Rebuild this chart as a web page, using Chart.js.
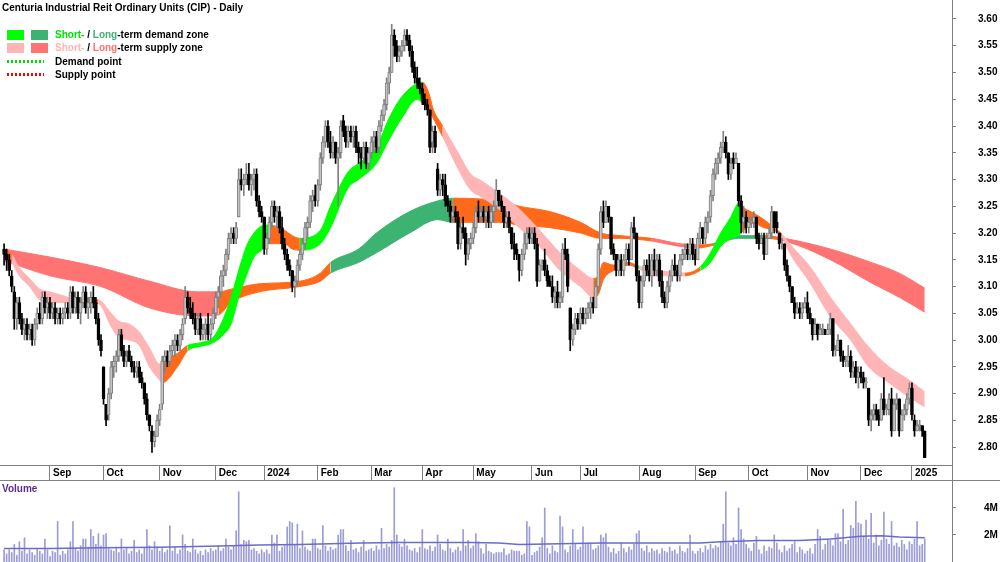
<!DOCTYPE html>
<html>
<head>
<meta charset="utf-8">
<script src="https://cdn.jsdelivr.net/npm/chart.js@4.4.1/dist/chart.umd.min.js"></script>
<style>
body { margin: 0; background: #fff; }
#wrap { position: relative; width: 1000px; height: 562px; overflow: hidden; background: #fff; font-family: "Liberation Sans", Arial, sans-serif; }
canvas { position: absolute; left: 0; }
.t { position: absolute; font-size: 10px; font-weight: bold; line-height: 13px; white-space: nowrap; color: #000; }
.sw { position: absolute; width: 17px; height: 10px; }
.dots { position: absolute; width: 37px; height: 3px; }
</style>
</head>
<body>
<div id="wrap">
  <canvas id="price" width="1000" height="480" style="top:0"></canvas>
  <canvas id="vol" width="1000" height="82" style="top:480px"></canvas>
  <div style="position:absolute;left:0;top:480px;width:1000px;height:1px;background:#808080"></div>
  <div style="position:absolute;left:952px;top:0;width:1px;height:562px;background:#808080"></div>

  <div class="t" style="left:2px;top:1px">Centuria Industrial Reit Ordinary Units (CIP) - Daily</div>
  <div class="sw" style="left:7px;top:30px;background:#00ff00"></div>
  <div class="sw" style="left:31px;top:30px;background:#3cb371"></div>
  <div class="t" style="left:55px;top:28px"><span style="color:#00e000">Short-</span> / <span style="color:#3cb371">Long</span>-term demand zone</div>
  <div class="sw" style="left:7px;top:43px;background:#ffb5b5"></div>
  <div class="sw" style="left:31px;top:43px;background:#ff7373"></div>
  <div class="t" style="left:55px;top:41px"><span style="color:#ffb5b5">Short-</span> / <span style="color:#ff7373">Long</span>-term supply zone</div>
  <div class="dots" style="left:7px;top:60px;background:repeating-linear-gradient(90deg,#00e000 0 2px,transparent 2px 4px)"></div>
  <div class="t" style="left:55px;top:55px">Demand point</div>
  <div class="dots" style="left:7px;top:73px;background:repeating-linear-gradient(90deg,#ff0000 0 2px,transparent 2px 4px)"></div>
  <div class="t" style="left:55px;top:68px">Supply point</div>
  <div class="t" style="left:2px;top:482px;color:#5c2d91">Volume</div>
</div>
<script>
// month ticks (trading-day index) and labels
const monthIdx = [18, 39, 61, 83, 102, 123, 144, 164, 184, 207, 226, 249, 271, 292, 315, 336, 356];
const monthLabels = ['Sep', 'Oct', 'Nov', 'Dec', '2024', 'Feb', 'Mar', 'Apr', 'May', 'Jun', 'Jul', 'Aug', 'Sep', 'Oct', 'Nov', 'Dec', '2025'];
const priceTicks = [2.80, 2.85, 2.90, 2.95, 3.00, 3.05, 3.10, 3.15, 3.20, 3.25, 3.30, 3.35, 3.40, 3.45, 3.50, 3.55, 3.60];
const volTicks = [2, 4];

// daily prices in cents, one line per month (Aug 2023 .. Jan 2025)
const opens = [
  317,316,315,312,309,304,307,304,302,303,301,302,300,303,305,304,308,306,
  307,305,306,304,305,304,305,306,305,309,306,308,305,307,309,306,307,308,307,304,300,
  295,288,286,290,295,296,297,301,298,296,298,296,295,294,295,293,292,289,286,283,281,282,
  285,288,296,297,296,298,299,300,299,301,304,308,306,305,304,302,304,301,302,303,301,303,
  305,308,309,312,313,316,319,320,319,323,330,329,330,331,329,330,331,326,324,
  323,317,319,322,325,323,324,321,318,316,314,313,310,311,314,316,318,321,322,326,327,
  326,329,334,337,340,337,335,337,334,335,341,339,337,339,338,339,336,335,334,336,333,
  335,337,338,336,340,342,344,348,350,357,355,353,354,355,357,356,354,351,349,348,
  347,345,344,343,337,339,332,328,330,329,326,325,323,324,323,318,321,320,316,318,
  319,321,324,323,324,323,324,322,324,325,328,326,325,322,323,321,318,317,316,313,316,318,320,
  319,320,318,311,314,315,313,311,310,308,309,307,308,317,316,306,300,302,304,
  303,305,304,305,306,307,306,310,317,324,322,325,323,317,316,313,315,313,315,317,315,321,320,
  312,307,311,314,313,312,315,313,315,311,308,307,310,312,314,313,312,315,316,317,316,318,
  316,315,319,321,319,322,323,327,331,333,334,336,337,335,331,334,333,333,326,322,323,
  321,322,322,323,319,318,319,316,319,320,324,322,320,318,318,314,312,310,307,305,306,305,306,
  307,305,304,301,303,301,302,302,301,302,304,298,298,300,297,296,296,297,294,295,293,
  294,293,292,291,285,286,287,286,285,289,287,287,289,283,288,289,283,286,287,289,
  291,285,283,284,284,283
];
const highs = [
  318,317,316,313,310,308,308,305,304,304,303,303,304,306,307,309,309,308,
  308,307,307,306,306,306,307,307,310,310,309,309,308,310,310,308,309,310,308,305,301,
  295,288,291,296,297,298,302,302,299,298,299,297,296,296,296,294,292,290,286,284,283,286,
  288,297,298,298,299,300,301,301,302,304,310,309,308,307,305,305,305,303,304,305,304,306,
  309,310,313,314,317,320,321,321,322,332,332,331,333,333,331,332,332,327,325,
  323,320,323,326,326,325,325,323,319,317,315,313,312,315,317,319,322,323,327,328,329,
  330,335,338,341,341,339,338,337,336,341,342,340,340,340,340,340,337,336,337,337,336,
  338,339,339,341,343,345,349,351,359,358,356,355,356,358,358,357,355,352,351,349,
  348,346,345,343,340,340,333,331,331,331,327,326,325,325,324,322,323,321,319,320,
  322,325,326,325,325,325,325,325,326,330,328,327,325,324,324,321,320,318,316,317,320,321,321,
  321,321,319,315,315,317,314,312,312,310,311,309,318,319,317,306,303,305,305,
  306,306,306,307,308,308,311,318,325,326,326,325,323,318,316,316,316,316,318,318,322,323,320,
  313,312,315,315,316,316,317,316,316,313,309,311,313,315,316,314,316,317,318,318,319,319,
  317,320,322,321,323,324,328,332,334,335,337,339,338,335,334,335,335,333,327,325,324,
  323,323,324,323,320,320,320,320,321,325,324,324,320,319,318,315,312,310,308,307,307,307,308,
  309,306,304,304,303,303,303,302,303,305,304,299,301,300,298,297,299,298,296,296,295,
  295,294,293,291,287,288,288,287,290,293,288,290,291,289,290,289,287,288,290,292,
  292,286,285,285,284,283
];
const lows = [
  314,313,312,309,302,302,303,301,300,300,300,299,299,302,303,303,305,304,
  304,304,303,303,303,303,304,304,304,305,305,304,303,306,305,304,305,306,303,299,297,
  288,284,285,289,293,294,296,297,295,295,296,294,293,293,292,291,288,285,283,279,280,282,
  284,287,294,295,295,297,297,298,298,300,303,305,304,303,301,301,300,300,300,300,300,302,
  304,306,308,310,312,315,318,318,318,323,328,327,329,328,327,328,325,323,322,
  316,316,318,321,322,321,320,317,315,313,312,309,308,310,313,315,317,319,321,324,325,
  325,328,333,336,336,334,334,333,325,334,338,336,336,337,336,335,333,332,333,332,332,
  334,335,335,335,339,341,343,346,350,353,352,352,353,354,355,353,350,348,347,346,
  344,343,342,335,335,335,327,327,327,325,324,322,322,322,317,317,319,314,315,317,
  318,320,322,322,322,321,321,321,322,324,325,324,321,321,320,317,315,315,311,312,315,317,318,
  318,317,310,311,313,312,310,310,307,306,306,306,307,315,309,298,299,301,302,
  302,303,303,304,304,305,306,309,316,321,322,322,316,315,312,312,312,312,314,314,315,319,311,
  306,306,310,312,311,310,312,312,310,307,306,306,309,311,312,311,311,314,315,315,315,315,
  314,315,318,318,318,320,322,326,330,331,333,335,334,330,330,332,333,325,320,320,320,
  320,321,321,318,317,318,315,316,319,319,320,320,317,317,313,311,309,307,304,305,304,304,306,
  304,303,300,301,300,301,301,301,301,301,297,297,298,296,295,295,295,293,293,292,291,
  292,291,291,284,283,285,285,284,285,286,286,286,282,283,287,282,283,285,286,288,
  285,282,283,283,282,278
];
const closes = [
  316,315,313,310,304,307,304,302,303,301,302,300,303,305,304,308,306,307,
  305,306,304,305,304,305,306,305,309,306,308,305,307,309,306,307,308,307,304,300,298,
  289,285,290,295,296,297,301,298,296,297,296,295,294,295,293,292,289,286,284,281,282,285,
  287,296,297,296,298,299,300,299,301,303,308,306,305,304,302,304,301,302,303,301,303,305,
  308,309,312,313,316,319,320,319,321,330,329,330,331,329,330,331,326,324,323,
  317,319,322,325,323,324,321,318,316,314,313,310,311,314,316,318,321,322,326,327,326,
  329,334,337,340,337,335,337,334,335,340,339,337,339,338,339,336,335,334,336,333,335,
  337,338,336,340,342,344,348,350,357,355,353,354,355,357,356,354,351,349,348,347,
  345,344,343,336,339,336,328,330,329,326,325,323,324,323,318,321,320,316,318,319,
  321,324,323,324,323,324,322,324,325,328,326,325,322,323,321,318,317,316,313,316,318,320,319,
  320,318,311,314,314,313,311,310,308,309,307,308,317,316,310,300,302,304,303,
  305,304,305,306,307,306,310,317,324,322,325,323,317,316,313,315,313,315,317,315,321,320,312,
  307,311,314,313,312,315,313,315,311,308,307,310,312,314,313,312,315,316,317,316,318,316,
  315,319,321,319,322,323,327,331,333,334,336,337,335,331,333,333,334,326,322,323,321,
  322,322,323,319,318,319,316,319,320,324,321,321,318,318,314,312,310,307,305,306,305,306,307,
  305,304,301,303,301,302,302,301,302,304,298,298,300,297,296,296,297,294,295,293,294,
  293,292,292,285,286,287,286,285,289,287,287,289,283,288,289,283,286,287,289,291,
  286,283,284,284,283,278
];
// daily volume, millions
const volumes = [
  0.9,0.6,0.9,0.7,1.3,0.5,1.5,0.8,1.8,0.6,0.9,0.7,0.5,1.0,0.8,0.6,1.7,0.9,
  0.4,0.8,0.7,3.0,0.5,0.8,0.6,0.9,1.5,3.0,1.0,0.8,1.2,1.7,1.7,1.1,2.4,1.9,1.3,2.1,1.2,
  2.0,2.1,1.0,0.9,0.8,1.1,0.7,1.7,0.9,1.0,0.6,0.8,1.6,0.7,0.9,0.6,1.1,2.4,1.2,0.9,1.5,1.1,
  0.8,1.0,0.7,0.9,2.7,0.8,1.1,0.6,0.9,2.0,1.3,0.8,0.7,1.7,0.9,0.6,0.8,0.5,0.9,0.7,1.0,0.8,
  0.9,1.2,0.8,1.0,1.7,1.1,0.9,1.2,2.3,5.2,1.3,1.6,1.5,1.6,0.9,1.0,0.8,0.6,0.9,
  0.7,0.9,0.6,2.0,1.4,2.0,0.8,1.1,1.2,2.6,3.0,2.9,1.3,2.8,1.0,2.3,1.1,0.9,0.8,1.7,1.7,
  1.0,0.9,2.7,1.2,0.8,1.1,0.9,1.0,2.0,2.4,2.4,1.2,0.8,1.6,0.9,1.0,0.7,1.1,1.6,0.8,0.9,
  1.0,0.8,1.2,0.9,2.5,1.0,1.3,1.1,1.6,5.5,2.0,1.3,1.1,1.7,1.2,0.9,0.8,1.0,0.7,1.1,
  2.4,1.0,0.9,1.2,0.8,1.1,2.0,1.3,0.9,0.8,1.7,1.0,0.7,0.9,1.1,0.8,2.4,1.2,1.6,1.0,
  1.2,2.1,1.5,1.0,0.6,1.3,0.8,0.7,0.6,0.7,0.7,0.7,1.0,0.5,0.6,0.9,0.8,0.8,0.8,0.5,0.6,3.0,2.6,
  0.5,0.7,0.8,1.1,1.8,4.0,1.0,0.6,1.2,0.8,0.7,3.4,2.6,0.9,0.7,1.2,2.4,1.3,0.9,
  1.1,2.6,1.3,1.4,1.4,0.9,1.0,1.2,2.0,1.8,2.1,1.1,0.7,1.0,0.6,0.8,1.4,1.0,0.7,1.1,0.9,1.3,2.1,
  2.3,1.0,0.8,1.2,0.7,1.0,0.8,0.9,0.6,1.0,0.8,0.7,1.1,0.8,0.9,0.6,1.2,0.8,0.7,1.0,2.0,0.8,
  0.6,0.8,1.0,0.7,1.2,0.9,1.3,1.0,1.2,1.1,1.5,2.8,5.2,1.4,1.2,1.8,1.3,4.0,2.4,1.7,1.3,
  1.0,0.8,1.4,1.9,0.9,0.6,1.2,0.8,1.1,1.0,2.0,1.4,0.9,0.7,1.2,0.8,1.0,1.3,1.5,0.7,1.1,0.9,0.6,
  0.8,1.0,0.6,1.3,2.4,1.9,0.9,1.3,1.7,1.6,1.2,2.1,2.1,1.5,3.9,1.3,1.6,2.7,2.5,4.5,2.9,
  2.8,1.9,3.1,1.7,3.6,1.4,2.0,1.2,1.6,3.7,1.7,1.3,3.0,1.2,1.4,1.1,1.6,1.3,0.9,1.5,
  1.3,1.7,3.0,1.2,1.3,1.7
];
// volume moving average (sparse)
const maIdx = [0, 18, 38, 61, 89, 100, 116, 140, 155, 183, 194, 202, 218, 234, 249, 273, 281, 296, 312, 324, 336, 344, 351, 361];
const maVal = [1.0, 1.0, 1.05, 1.1, 1.2, 1.25, 1.3, 1.4, 1.45, 1.45, 1.4, 1.3, 1.35, 1.4, 1.4, 1.4, 1.5, 1.6, 1.6, 1.7, 1.9, 1.95, 1.85, 1.8];

// short-term zone (G demand, P supply, O neutral)
const stIdx = [0,3,6,10,14,18,25,27,37,42,45,49,53,57,61,62,68,72,77,82,86,89,92,95,98,101,104,110,113,116,124,128,135,139,146,151,156,162,164,167,168,172,178,183,187,194,202,210,218,226,231,233,235,239,245,248,249,255,262,267,273,277,281,285,288,289,294,298,302,305,308,316,324,332,339,347,355,361];
const stTop = [3.170,3.160,3.135,3.115,3.095,3.090,3.080,3.078,3.075,3.050,3.035,3.030,3.015,2.985,2.955,2.960,2.975,2.990,2.995,3.005,3.040,3.080,3.130,3.175,3.200,3.213,3.215,3.205,3.195,3.190,3.205,3.250,3.315,3.330,3.360,3.415,3.455,3.480,3.482,3.455,3.435,3.400,3.350,3.310,3.298,3.275,3.245,3.205,3.163,3.130,3.115,3.120,3.145,3.140,3.145,3.140,3.138,3.130,3.127,3.125,3.137,3.163,3.200,3.230,3.255,3.250,3.237,3.225,3.210,3.198,3.180,3.137,3.080,3.030,2.987,2.950,2.925,2.903];
const stBot = [3.155,3.145,3.120,3.100,3.075,3.070,3.070,3.070,3.068,3.025,3.005,3.000,2.990,2.950,2.925,2.920,2.950,2.980,2.988,2.995,3.010,3.030,3.080,3.120,3.155,3.168,3.180,3.180,3.170,3.168,3.180,3.210,3.285,3.300,3.330,3.375,3.415,3.450,3.443,3.425,3.417,3.380,3.320,3.280,3.268,3.245,3.210,3.175,3.130,3.100,3.080,3.085,3.113,3.130,3.140,3.135,3.133,3.120,3.120,3.120,3.130,3.145,3.175,3.190,3.195,3.200,3.218,3.210,3.205,3.193,3.163,3.107,3.044,3.000,2.950,2.920,2.893,2.875];
const stState = 'OPPPPPPOPPPPPPPOOGGGGGGGGGOOOGGGGGGGGGOOOPPPPPPPPPOOOOOGPPPOGGGGGOOOOPPPPPPPPP'.split('');

// long-term zone (G demand, R supply, O neutral)
const ltIdx = [0,18,38,57,76,84,89,100,116,124,128,139,146,159,170,176,194,202,214,226,234,242,254,265,272,278,288,298,306,324,340,351,361];
const ltTop = [3.170,3.155,3.135,3.110,3.090,3.090,3.095,3.105,3.110,3.125,3.145,3.170,3.200,3.240,3.260,3.265,3.260,3.250,3.240,3.220,3.200,3.195,3.190,3.180,3.178,3.180,3.195,3.195,3.190,3.170,3.145,3.125,3.097];
const ltBot = [3.148,3.120,3.100,3.060,3.045,3.047,3.070,3.090,3.100,3.110,3.125,3.145,3.163,3.200,3.225,3.220,3.220,3.215,3.210,3.200,3.190,3.190,3.185,3.175,3.172,3.177,3.190,3.190,3.185,3.150,3.107,3.080,3.052];
const ltState = 'RRRRROOOOOGGGGGOOOOOOORROGGORRRRR'.split('');

const stColors = { G: '#00ff00', P: '#ffb5b5', O: '#ff6a1a' };
const ltColors = { G: '#3cb371', R: '#ff7373', O: '#ff6a1a' };

const xMin = -1.6, xMax = 371.7;
const yMin = 2.7664, yMax = 3.6355;
const axisFont = { family: '"Liberation Sans", Arial, sans-serif', size: 10, weight: 'bold' };

Chart.defaults.font.family = '"Liberation Sans", Arial, sans-serif';

const isUp = opens.map((o, i) => closes[i] >= o);
const bodyData = opens.map((o, i) => ({ x: i, y: [o / 100, closes[i] / 100] }));
const wickData = opens.map((o, i) => ({ x: i, y: [lows[i] / 100, highs[i] / 100] }));

// keep the plot area flush with the canvas edges
function fixBox(w, h) {
  return s => {
    if (w !== null) s.width = w;
    if (h !== null) s.height = h;
    s.paddingTop = 0; s.paddingBottom = 0; s.paddingLeft = 0; s.paddingRight = 0;
  };
}

function band(xs, ys, states, colors, fill, order) {
  return {
    type: 'line',
    data: xs.map((x, k) => ({ x: x, y: ys[k] })),
    fill: fill,
    order: order,
    pointRadius: 0,
    borderWidth: 1,
    cubicInterpolationMode: 'monotone',
    borderColor: colors[states[0]],
    backgroundColor: colors[states[0]],
    segment: {
      borderColor: c => colors[states[c.p0DataIndex]],
      backgroundColor: c => colors[states[c.p0DataIndex]]
    }
  };
}

new Chart(document.getElementById('price'), {
  type: 'bar',
  data: {
    datasets: [
      {
        type: 'bar', data: bodyData, order: 0, grouped: false,
        barThickness: 3, minBarLength: 1, borderWidth: 1, borderSkipped: false,
        backgroundColor: isUp.map(u => u ? '#c4c4c4' : '#000000'),
        borderColor: isUp.map(u => u ? '#808080' : '#000000')
      },
      {
        type: 'bar', data: wickData, order: 0, grouped: false,
        barThickness: 1,
        backgroundColor: isUp.map(u => u ? '#808080' : '#000000')
      },
      band(stIdx, stTop, stState, stColors, '+1', 1),
      band(stIdx, stBot, stState, stColors, false, 1),
      band(ltIdx, ltTop, ltState, ltColors, '+1', 2),
      band(ltIdx, ltBot, ltState, ltColors, false, 2)
    ]
  },
  options: {
    responsive: false,
    animation: false,
    devicePixelRatio: 1,
    events: [],
    layout: { padding: 0 },
    plugins: { legend: { display: false }, tooltip: { enabled: false } },
    scales: {
      x: {
        type: 'linear', min: xMin, max: xMax, offset: false,
        afterBuildTicks: s => { s.ticks = monthIdx.map(v => ({ value: v })); },
        afterFit: fixBox(null, 15),
        grid: { drawOnChartArea: false, drawTicks: true, tickLength: 15, tickColor: '#808080', offset: false },
        border: { display: true, color: '#808080' },
        ticks: {
          autoSkip: false, maxRotation: 0, align: 'start', labelOffset: 3, padding: -13,
          font: axisFont, color: '#000',
          callback: (v, i) => monthLabels[i]
        }
      },
      y: {
        position: 'right', min: yMin, max: yMax,
        afterBuildTicks: s => { s.ticks = priceTicks.map(v => ({ value: v })); },
        afterFit: fixBox(48, null),
        grid: { drawOnChartArea: false, tickLength: 4, tickColor: '#808080' },
        border: { color: '#808080' },
        ticks: { padding: 22, font: axisFont, color: '#000', callback: v => v.toFixed(2) }
      }
    }
  }
});

new Chart(document.getElementById('vol'), {
  type: 'bar',
  data: {
    datasets: [
      {
        type: 'line', order: 0,
        data: maIdx.map((x, k) => ({ x: x, y: maVal[k] })),
        borderColor: '#6b6bc9', borderWidth: 1.5, pointRadius: 0, fill: false
      },
      {
        type: 'bar', order: 1,
        data: volumes.map((v, i) => ({ x: i, y: v })),
        barThickness: 1, backgroundColor: '#9c9cd9'
      }
    ]
  },
  options: {
    responsive: false,
    animation: false,
    devicePixelRatio: 1,
    events: [],
    layout: { padding: 0 },
    plugins: { legend: { display: false }, tooltip: { enabled: false } },
    scales: {
      x: { type: 'linear', min: xMin, max: xMax, offset: false, display: false },
      y: {
        position: 'right', min: 0, max: 6.07,
        afterBuildTicks: s => { s.ticks = volTicks.map(v => ({ value: v })); },
        afterFit: fixBox(48, null),
        grid: { drawOnChartArea: false, tickLength: 4, tickColor: '#808080' },
        border: { color: '#808080' },
        ticks: { padding: 28, font: axisFont, color: '#000', callback: v => v + 'M' }
      }
    }
  }
});
</script>
</body>
</html>
